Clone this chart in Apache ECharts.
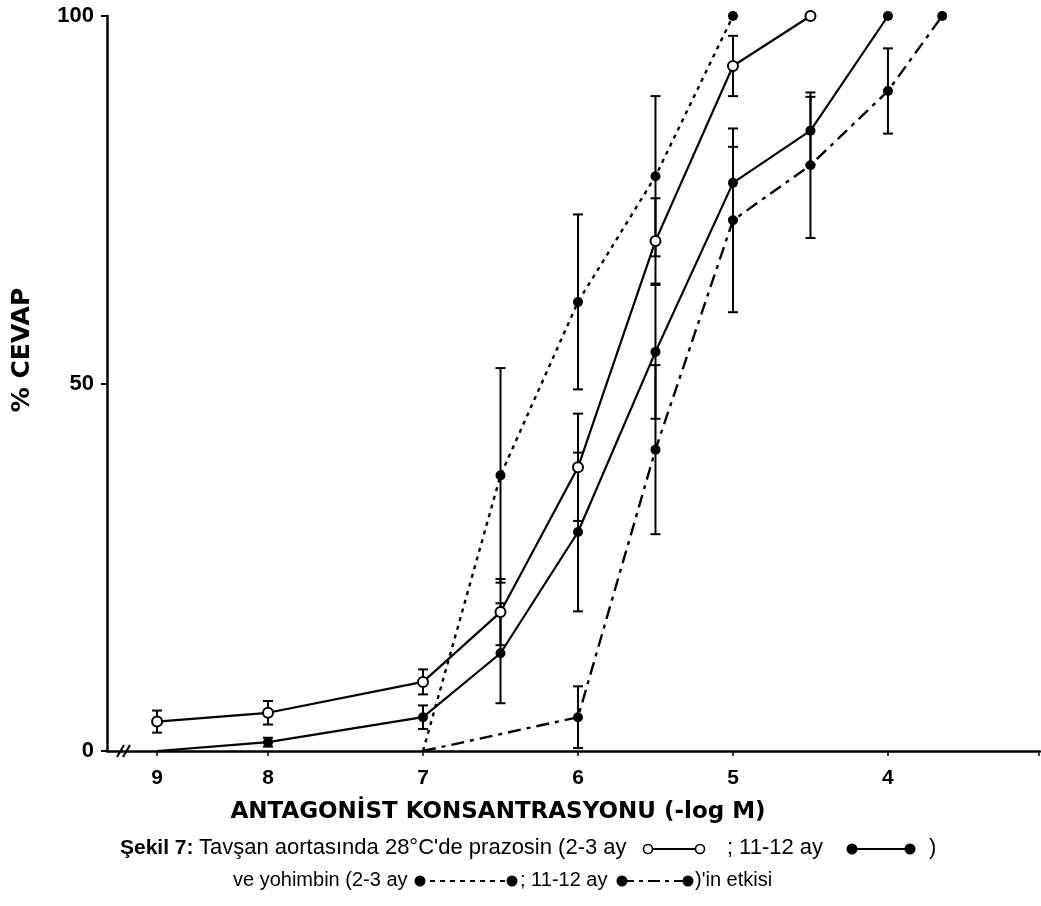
<!DOCTYPE html>
<html>
<head>
<meta charset="utf-8">
<style>
  html, body { margin: 0; padding: 0; background: #fff; }
  #main { width: 1041px; height: 906px; }
</style>
</head>
<body>
<div id="main"></div>
<script src="https://cdn.jsdelivr.net/npm/echarts@6/dist/echarts.min.js"></script>
<script>
    // -log M values and % cevap
    var prazYoungX = [9, 8, 7, 6.5, 6, 5.5, 5, 4.5];
    var prazYoungY = [4, 5.2, 9.4, 18.9, 38.6, 69.4, 93.2, 100];
    var prazYoungErr = [1.5, 1.6, 1.7, 4.5, 7.3, 5.8, 4.1, 0];

    var prazOldX = [9, 8, 7, 6.5, 6, 5.5, 5, 4.5, 4];
    var prazOldY = [0, 1.2, 4.6, 13.3, 29.8, 54.3, 77.3, 84.4, 100];
    var prazOldErr = [0, 0.6, 1.6, 6.8, 10.8, 9.1, 4.9, 4.6, 0];

    var yohYoungX = [7, 6.5, 6, 5.5, 5];
    var yohYoungY = [0, 37.5, 61.1, 78.2, 100];
    var yohYoungErr = [0, 14.6, 11.9, 10.9, 0];

    var yohOldX = [7, 6, 5.5, 5, 4.5, 4, 3.65];
    var yohOldY = [0, 4.6, 41, 72.2, 79.7, 89.8, 100];
    var yohOldErr = [0, 4.2, 11.5, 12.5, 9.9, 5.8, 0];

    var xTicks = [9, 8, 7, 6, 5, 4];
    var yTicks = [0, 50, 100];

    // the 9..8 stretch is drawn shorter in the original (axis is broken)
    function axisPos(v) {
        return v > 8 ? 8 + (v - 8) * 0.716 : v;
    }
    function axisLabelOf(p) {
        return p > 8 ? '9' : String(Math.round(p));
    }

    function pairs(xs, ys) {
        return xs.map(function (x, i) { return [axisPos(x), ys[i]]; });
    }
    function errs(xs, ys, es) {
        var out = [];
        xs.forEach(function (x, i) {
            if (es[i] > 0) out.push([axisPos(x), ys[i], es[i]]);
        });
        return out;
    }

    var errData = [].concat(
        errs(prazYoungX, prazYoungY, prazYoungErr),
        errs(prazOldX, prazOldY, prazOldErr),
        errs(yohYoungX, yohYoungY, yohYoungErr),
        errs(yohOldX, yohOldY, yohOldErr)
    );

    var tickPos = xTicks.map(axisPos);
    var xMin = 3.019, xMax = 9.039;

    function pointSymbol(v) {
        return v[1] === 0 ? 'none' : 'circle';
    }

    // caption pieces
    var capFont1 = '22px "Liberation Sans", Arial, sans-serif';
    var capFont2 = '20px "Liberation Sans", Arial, sans-serif';
    function capText(x, y, text, font, align) {
        return { type: 'text', x: x, y: y, style: { text: text, font: font, fill: '#000', align: align || 'left', verticalAlign: 'middle' } };
    }
    function keySymbol(x1, x2, y, open, dash) {
        var circ = function (cx) {
            return {
                type: 'circle', shape: { cx: cx, cy: y, r: open ? 4.5 : 5.5 },
                style: open ? { fill: '#fff', stroke: '#000', lineWidth: 1.6 } : { fill: '#000' }
            };
        };
        return {
            type: 'group',
            children: [
                { type: 'line', shape: { x1: x1, y1: y, x2: x2, y2: y }, style: { stroke: '#000', lineWidth: 2, lineDash: dash || null } },
                circ(x1), circ(x2)
            ]
        };
    }

    var myChart = echarts.init(document.getElementById('main'));

    var option = {
        animation: false,
        backgroundColor: '#fff',
        grid: { left: 107, right: 1, top: 16, bottom: 155 },
        xAxis: {
            type: 'value',
            inverse: true,
            min: xMin,
            max: xMax,
            axisLine: { lineStyle: { color: '#000', width: 2.5 } },
            axisTick: {
                show: true,
                length: 5,
                customValues: tickPos.concat([xMin + 0.01]),
                lineStyle: { color: '#000', width: 1.5 }
            },
            axisLabel: {
                customValues: tickPos,
                formatter: function (v) { return axisLabelOf(v); },
                color: '#000',
                fontFamily: 'Liberation Sans',
                fontWeight: 'bold',
                fontSize: 21,
                margin: 17
            },
            splitLine: { show: false }
        },
        yAxis: {
            type: 'value',
            min: yTicks[0],
            max: yTicks[2],
            interval: 50,
            axisLine: { show: true, lineStyle: { color: '#000', width: 2.5 } },
            axisTick: { show: true, length: 6, lineStyle: { color: '#000', width: 2 } },
            axisLabel: {
                color: '#000',
                fontFamily: 'Liberation Sans',
                fontWeight: 'bold',
                fontSize: 22,
                margin: 13
            },
            splitLine: { show: false }
        },
        series: [
            {
                name: 'prazosin 2-3 ay',
                type: 'line',
                data: pairs(prazYoungX, prazYoungY),
                symbol: pointSymbol,
                symbolSize: 10,
                itemStyle: { color: '#fff', borderColor: '#000', borderWidth: 2 },
                lineStyle: { color: '#000', width: 2.2 },
                z: 4
            },
            {
                name: 'prazosin 11-12 ay',
                type: 'line',
                data: pairs(prazOldX, prazOldY),
                symbol: pointSymbol,
                symbolSize: 10,
                itemStyle: { color: '#000' },
                lineStyle: { color: '#000', width: 2.2 },
                z: 3
            },
            {
                name: 'yohimbin 2-3 ay',
                type: 'line',
                data: pairs(yohYoungX, yohYoungY),
                symbol: pointSymbol,
                symbolSize: 10,
                itemStyle: { color: '#000' },
                lineStyle: { color: '#000', width: 2.4, type: [4, 5] },
                z: 3
            },
            {
                name: 'yohimbin 11-12 ay',
                type: 'line',
                data: pairs(yohOldX, yohOldY),
                symbol: pointSymbol,
                symbolSize: 10,
                itemStyle: { color: '#000' },
                lineStyle: { color: '#000', width: 2.4, type: [13, 6, 4, 6] },
                z: 3
            },
            {
                name: 'hata',
                type: 'custom',
                data: errData,
                z: 2,
                renderItem: function (params, api) {
                    var x = api.value(0), y = api.value(1), e = api.value(2);
                    var top = api.coord([x, y + e]);
                    var bot = api.coord([x, y - e]);
                    var style = { stroke: '#000', lineWidth: 2 };
                    return {
                        type: 'group',
                        children: [
                            { type: 'line', shape: { x1: top[0], y1: top[1], x2: bot[0], y2: bot[1] }, style: style },
                            { type: 'line', shape: { x1: top[0] - 5, y1: top[1], x2: top[0] + 5, y2: top[1] }, style: style },
                            { type: 'line', shape: { x1: bot[0] - 5, y1: bot[1], x2: bot[0] + 5, y2: bot[1] }, style: style }
                        ]
                    };
                }
            }
        ],
        graphic: [
            // axis break marks
            { type: 'line', z: 10, shape: { x1: 117, y1: 757, x2: 124, y2: 745 }, style: { stroke: '#000', lineWidth: 2 } },
            { type: 'line', z: 10, shape: { x1: 123, y1: 757, x2: 130, y2: 745 }, style: { stroke: '#000', lineWidth: 2 } },
            {
                type: 'text',
                x: 22, y: 350,
                rotation: Math.PI / 2,
                style: {
                    text: '% CEVAP',
                    font: 'bold 25px "DejaVu Sans"',
                    fill: '#000',
                    align: 'center',
                    verticalAlign: 'middle'
                }
            },
            {
                type: 'text',
                x: 498, y: 812,
                style: {
                    text: 'ANTAGONİST KONSANTRASYONU (-log M)',
                    font: 'bold 23px "DejaVu Sans"',
                    fill: '#000',
                    align: 'center',
                    verticalAlign: 'middle'
                }
            },
            // caption line 1
            capText(120, 848, 'Şekil 7:', 'bold 21px "Liberation Sans", Arial, sans-serif'),
            capText(199, 848, 'Tavşan aortasında 28°C\'de prazosin (2-3 ay', capFont1),
            keySymbol(648, 700, 849, true),
            capText(775, 848, '; 11-12 ay', capFont1, 'center'),
            keySymbol(852, 910, 849, false),
            capText(929, 848, ')', capFont1),
            // caption line 2
            capText(233, 880, 've yohimbin (2-3 ay', capFont2),
            keySymbol(420, 512, 881, false, [5, 5]),
            capText(520, 880, '; 11-12 ay', capFont2),
            keySymbol(622, 688, 881, false, [12, 5, 4, 5]),
            capText(695, 880, ')\'in etkisi', capFont2)
        ]
    };

    myChart.setOption(option);
</script>
</body>
</html>
